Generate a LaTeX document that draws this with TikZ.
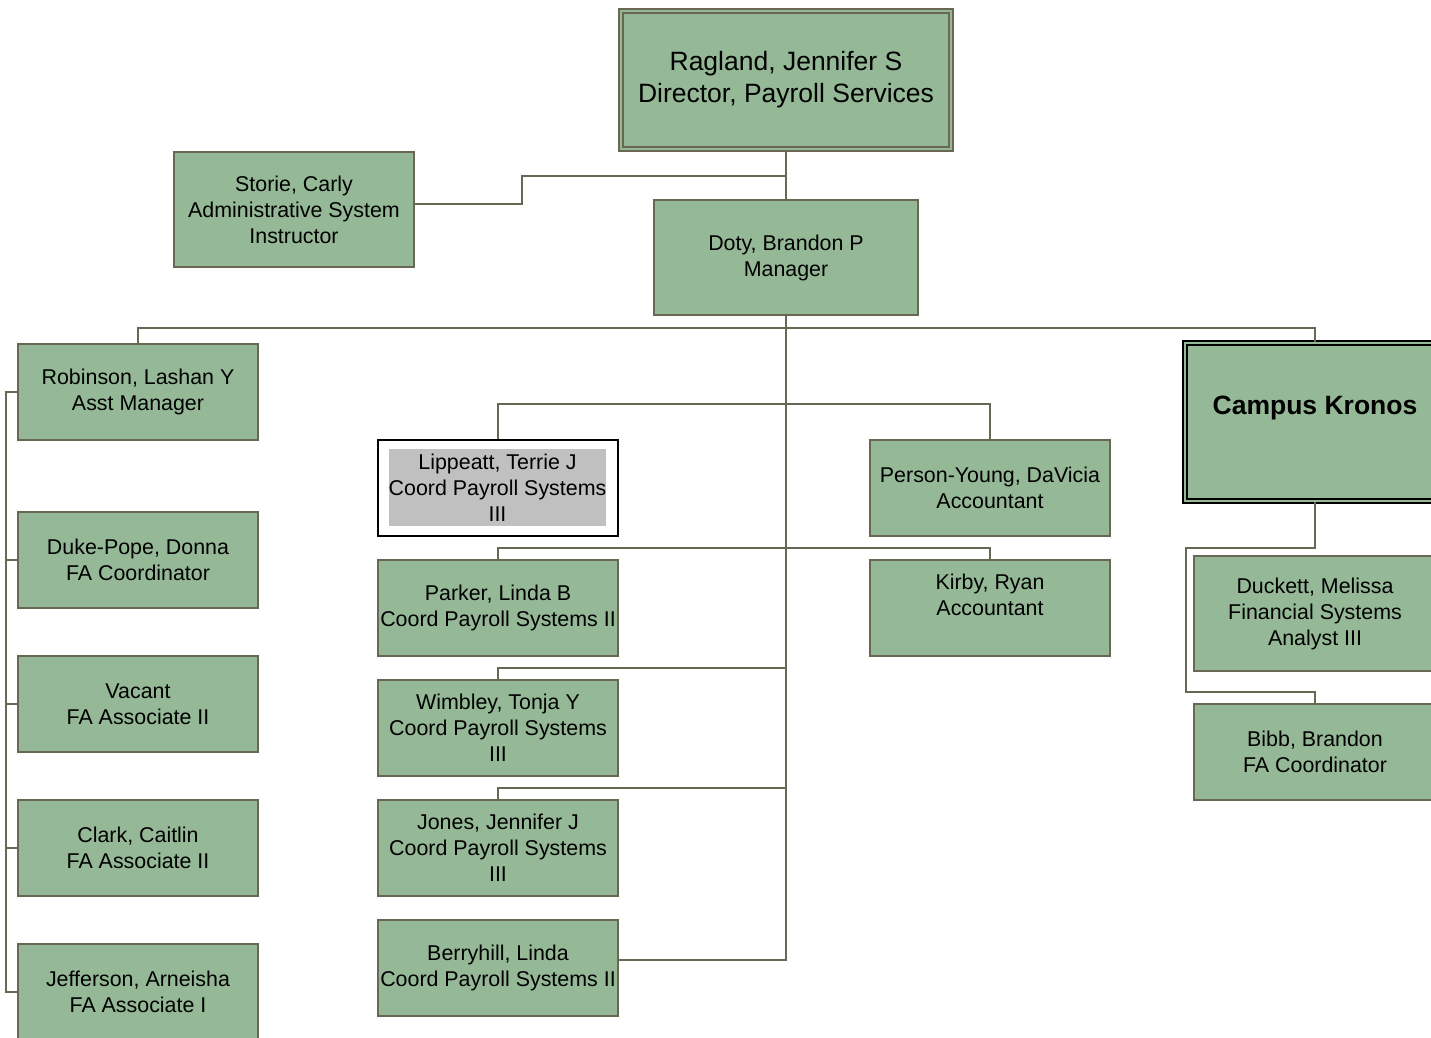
\documentclass[tikz,border=0pt]{standalone}
\usepackage{fontspec}
\setmainfont{Liberation Sans}
\usetikzlibrary{calc}
\definecolor{boxgreen}{RGB}{149,185,151}
\definecolor{edgecol}{RGB}{104,104,84}
\definecolor{lipgray}{RGB}{192,192,192}
\tikzset{
  box/.style={rectangle, draw=edgecol, line width=2pt, fill=boxgreen, inner sep=0pt,
    align=center, minimum width=240pt, minimum height=96pt,
    font=\fontsize{21.4}{26}\selectfont, text=black},
  conn/.style={draw=edgecol, line width=2pt},
}
\begin{document}
\begin{tikzpicture}[x=1pt,y=-1pt]
\useasboundingbox (0,0) rectangle (1431,1037);
\clip (0,0) rectangle (1431,1037);
% top
\node[box, minimum width=330pt, minimum height=138pt, double=boxgreen, double distance=2pt,
  font=\fontsize{26.5}{32}\selectfont] (rag) at (786,80) {Ragland, Jennifer S\\Director, Payroll Services};
\node[box, minimum height=115pt] (storie) at (294,209.5) {Storie, Carly\\Administrative System\\Instructor};
\node[box, minimum width=264pt, minimum height=115pt] (doty) at (786,257.5) {Doty, Brandon P\\Manager};
% left column
\node[box] (rob) at (138,392) {Robinson, Lashan Y\\Asst Manager};
\node[box] (duke) at (138,560) {Duke-Pope, Donna\\FA Coordinator};
\node[box] (vac) at (138,704) {Vacant\\FA Associate II};
\node[box] (clark) at (138,848) {Clark, Caitlin\\FA Associate II};
\node[box] (jeff) at (138,992) {Jefferson, Arneisha\\FA Associate I};
% middle column
\node[rectangle, draw=black, line width=2pt, fill=white, minimum width=240pt, minimum height=96pt] (lipbox) at (498,488) {};
\node[rectangle, fill=lipgray, inner sep=0pt, minimum width=217pt, minimum height=77pt, align=center,
  font=\fontsize{21.4}{26}\selectfont] (lip) at (497.5,487.5) {Lippeatt, Terrie J\\Coord Payroll Systems\\III};
\node[box] (parker) at (498,608) {Parker, Linda B\\Coord Payroll Systems II};
\node[box] (wim) at (498,728) {Wimbley, Tonja Y\\Coord Payroll Systems\\III};
\node[box] (jones) at (498,848) {Jones, Jennifer J\\Coord Payroll Systems\\III};
\node[box] (berry) at (498,968) {Berryhill, Linda\\Coord Payroll Systems II};
% right-middle column
\node[box] (person) at (990,488) {Person-Young, DaVicia\\Accountant};
\node[box] (kirby) at (990,608) {Kirby, Ryan\\Accountant\\\mbox{}};
% right column
\node[box, draw=black, minimum width=261pt, minimum height=158pt, double=boxgreen, double distance=2pt,
  font=\fontsize{26.5}{32}\selectfont\bfseries] (kronos) at (1315,421.5) {Campus Kronos\\\mbox{}};
\node[box, minimum width=242pt, minimum height=115pt] (duck) at (1315,613.5) {Duckett, Melissa\\Financial Systems\\Analyst III};
\node[box, minimum width=242pt] (bibb) at (1315,752) {Bibb, Brandon\\FA Coordinator};
% connectors
\draw[conn] (rag.south) -- (doty.north);
\draw[conn] ([yshift=5.5pt]storie.east) -| (522,176) -- (rag.south |- 0,176);
\draw[conn] (doty.south) -- (786,960) -- ([yshift=8pt]berry.east);
\draw[conn] (rob.north) -- (138,328) -| (kronos.north);
\draw[conn] (lipbox.north) -- (498,404) -| (person.north);
\draw[conn] (parker.north) -- (498,548) -| (kirby.north);
\draw[conn] (wim.north) |- (786,668);
\draw[conn] (jones.north) |- (786,788);
\draw[conn] (rob.west) -- (6,392) |- (jeff.west);
\draw[conn] (duke.west) -- (6,560);
\draw[conn] (vac.west) -- (6,704);
\draw[conn] (clark.west) -- (6,848);
\draw[conn] (kronos.south) |- (1186,548) -- (1186,692) -| (bibb.north);
\end{tikzpicture}
\end{document}
